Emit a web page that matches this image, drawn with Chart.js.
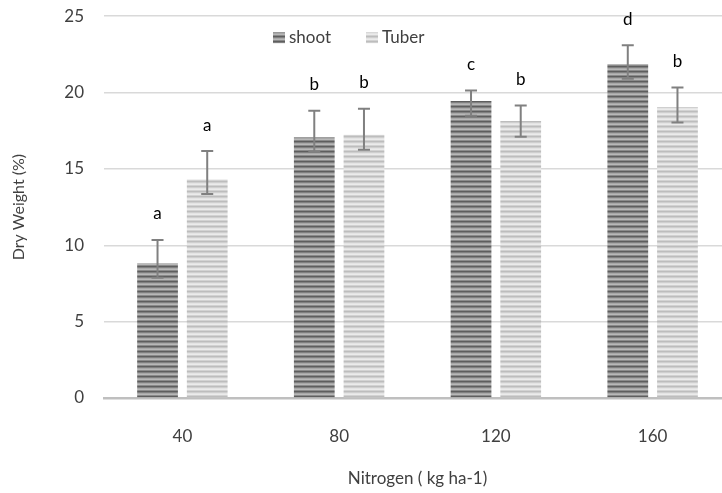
<!DOCTYPE html>
<html>
<head>
<meta charset="utf-8">
<script src="https://cdn.jsdelivr.net/npm/chart.js@4"></script>
<style>
  html, body { margin: 0; padding: 0; background: #fff; overflow: hidden; }
  #wrap { width: 740px; height: 507px; margin-top: -14px; }
</style>
</head>
<body>
<div id="wrap"><canvas id="grafico"></canvas></div>
<script>
// dados
const doses = ['40', '80', '120', '160'];
const shoot = [8.83, 17.08, 19.44, 21.87];
const shootErrUp = [1.52, 1.73, 0.70, 1.22];
const shootErrDown = [0.95, 0.94, 0.96, 0.97];
const shootLetras = ['a', 'b', 'c', 'd'];
const tuber = [14.33, 17.23, 18.13, 19.05];
const tuberErrUp = [1.84, 1.71, 1.02, 1.28];
const tuberErrDown = [0.98, 0.98, 1.03, 1.01];
const tuberLetras = ['a', 'b', 'b', 'b'];

const FONTE = 'Lato, "Open Sans", sans-serif';
const COR_TEXTO = '#404040';

function listras(cores) {
    const c = document.createElement('canvas');
    c.width = 4; c.height = cores.length;
    const g = c.getContext('2d');
    cores.forEach((cor, i) => { g.fillStyle = cor; g.fillRect(0, i, 4, 1); });
    return g.createPattern(c, 'repeat');
}
const padraoShoot = listras(['#5e5e5e', '#808080', '#a8a8a8', '#b8b8b8', '#8a8a8a']);
const padraoTuber = listras(['#bdbdbd', '#cfcfcf', '#e4e4e4', '#ebebeb', '#d2d2d2']);

const errosELetras = {
    id: 'errosELetras',
    afterDatasetsDraw(chart) {
        const ctx = chart.ctx;
        const y = chart.scales.y;
        const extras = [
            { up: shootErrUp, down: shootErrDown, letras: shootLetras },
            { up: tuberErrUp, down: tuberErrDown, letras: tuberLetras }
        ];
        ctx.save();
        extras.forEach((ex, di) => {
            const meta = chart.getDatasetMeta(di);
            const vals = chart.data.datasets[di].data;
            meta.data.forEach((bar, i) => {
                const x = bar.x;
                const yTop = y.getPixelForValue(vals[i] + ex.up[i]);
                const yBot = y.getPixelForValue(vals[i] - ex.down[i]);
                ctx.strokeStyle = '#808080';
                ctx.lineWidth = 2;
                ctx.beginPath();
                ctx.moveTo(x, yTop); ctx.lineTo(x, yBot);
                ctx.moveTo(x - 6, yTop); ctx.lineTo(x + 6, yTop);
                ctx.moveTo(x - 6, yBot); ctx.lineTo(x + 6, yBot);
                ctx.stroke();
                ctx.fillStyle = '#000';
                ctx.font = '17px ' + FONTE;
                ctx.textAlign = 'center';
                ctx.textBaseline = 'middle';
                ctx.fillText(ex.letras[i], x, yTop - 26);
            });
        });
        // legenda dentro da área do gráfico, logo abaixo da linha do 25
        const topo = y.getPixelForValue(25);
        const itens = chart.data.datasets.map(d => ({ label: d.label, cor: d.backgroundColor }));
        ctx.font = '17px ' + FONTE;
        ctx.textAlign = 'left';
        ctx.textBaseline = 'middle';
        let lx = 273;
        const ly = topo + 21;
        itens.forEach(it => {
            ctx.fillStyle = it.cor;
            ctx.fillRect(lx, ly - 5, 12, 11);
            ctx.fillStyle = COR_TEXTO;
            ctx.fillText(it.label, lx + 16, ly);
            lx = 366;
        });
        ctx.restore();
    }
};

new Chart(document.getElementById('grafico'), {
    type: 'bar',
    data: {
        labels: doses,
        datasets: [
            { label: 'shoot', data: shoot, backgroundColor: padraoShoot, borderWidth: 0,
              categoryPercentage: 0.634, barPercentage: 0.82 },
            { label: 'Tuber', data: tuber, backgroundColor: padraoTuber, borderWidth: 0,
              categoryPercentage: 0.634, barPercentage: 0.82 }
        ]
    },
    options: {
        responsive: true,
        maintainAspectRatio: false,
        animation: false,
        layout: { padding: { top: 2, right: 9, left: 0, bottom: 0 } },
        plugins: { legend: { display: false }, tooltip: { enabled: false } },
        scales: {
            x: {
                grid: { display: false, drawTicks: false },
                border: { color: '#bfbfbf', width: 2.5 },
                ticks: { color: COR_TEXTO, font: { family: FONTE, size: 17 }, padding: 28 },
                title: { display: true, text: 'Nitrogen ( kg ha-1)', color: COR_TEXTO,
                         font: { family: FONTE, size: 17 }, padding: { top: 14, bottom: 4 } },
                afterFit: s => { s.height = 95; }
            },
            y: {
                min: 0, max: 25,
                ticks: { stepSize: 5, color: COR_TEXTO, font: { family: FONTE, size: 17 }, padding: 20 },
                grid: { color: '#d9d9d9', lineWidth: 1.5, drawTicks: false },
                border: { display: false },
                title: { display: true, text: 'Dry Weight (%)', color: COR_TEXTO,
                         font: { family: FONTE, size: 16 }, padding: { top: 9, bottom: 10 } },
                afterFit: s => { s.width = 104; }
            }
        }
    },
    plugins: [errosELetras]
});
</script>
</body>
</html>
